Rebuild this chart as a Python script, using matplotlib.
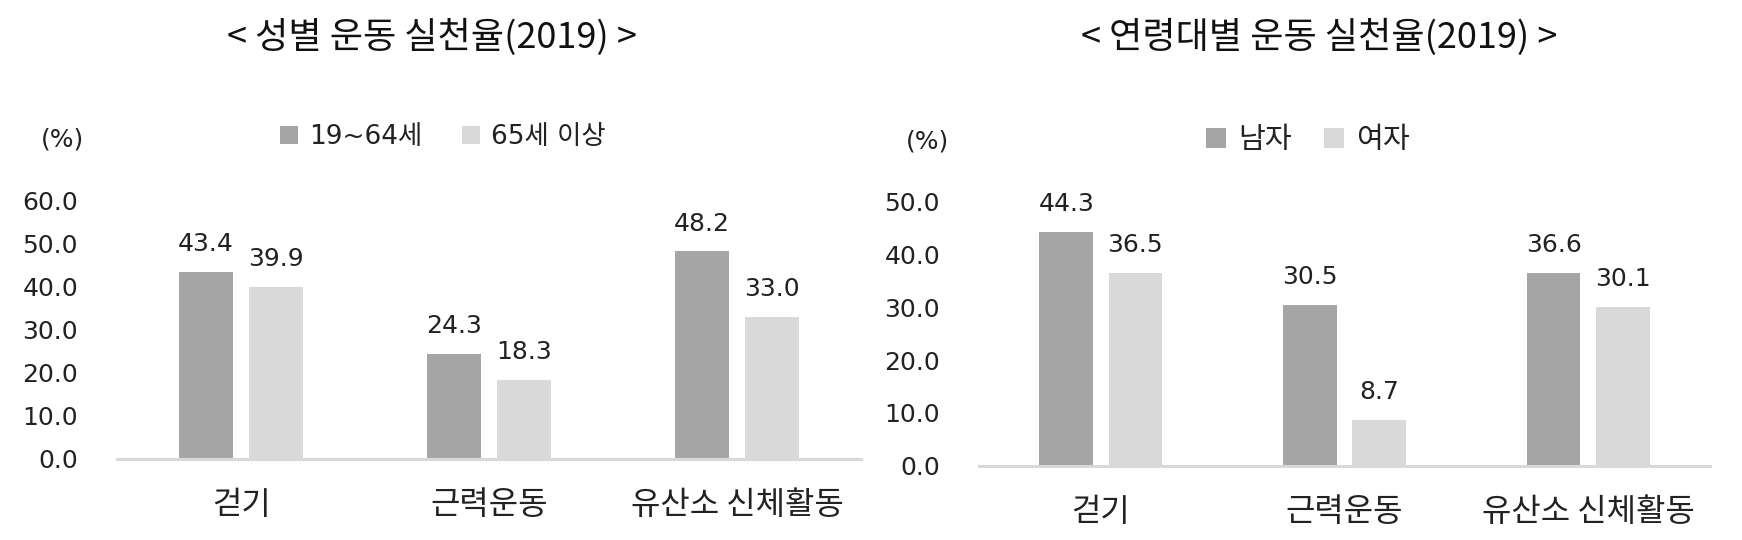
import matplotlib
matplotlib.use("Agg")
import matplotlib.pyplot as plt
import numpy as np

plt.rcParams['font.family'] = ['DejaVu Sans', 'Noto Sans CJK KR']

categories = ["걷기", "근력운동", "유산소 신체활동"]

# Left chart
left_title = "< 성별 운동 실천율(2019) >"
left_series_names = ["19~64세", "65세 이상"]
left_dark = [43.4, 24.3, 48.2]
left_light = [39.9, 18.3, 33.0]
left_ticks = [0, 10, 20, 30, 40, 50, 60]

# Right chart
right_title = "< 연령대별 운동 실천율(2019) >"
right_series_names = ["남자", "여자"]
right_dark = [44.3, 30.5, 36.6]
right_light = [36.5, 8.7, 30.1]
right_ticks = [0, 10, 20, 30, 40, 50]

DARK = "#A5A5A5"
LIGHT = "#D9D9D9"
TXT = "#222222"
KFONT = ['Noto Sans CJK KR', 'DejaVu Sans']
NFONT = ['DejaVu Sans', 'Noto Sans CJK KR']

W, H = 1742, 540
fig = plt.figure(figsize=(W / 100, H / 100), dpi=100)


def panel(rect, title, title_x, pct_xy, names, dark, light, ticks, legend_xy, legend_fs, colsp, tpad):
    ax = fig.add_axes(rect)
    x = np.arange(len(categories))
    w = 0.22
    off = 0.142
    b1 = ax.bar(x - off, dark, w, color=DARK, label=names[0])
    b2 = ax.bar(x + off, light, w, color=LIGHT, label=names[1])
    for bars, vals in ((b1, dark), (b2, light)):
        for rect_, v in zip(bars, vals):
            ax.annotate(f"{v:.1f}", (rect_.get_x() + rect_.get_width() / 2, v),
                        xytext=(0, 15), textcoords="offset points",
                        ha="center", va="baseline", fontsize=18, color=TXT,
                        family=NFONT, annotation_clip=False)
    ax.set_xlim(-0.5, len(categories) - 0.5)
    ax.set_ylim(ticks[0], ticks[-1])
    ax.set_yticks(ticks)
    ax.set_yticklabels([f"{t:.1f}" for t in ticks], fontsize=18, color=TXT, family=NFONT)
    ax.set_xticks(x)
    ax.set_xticklabels(categories, fontsize=23, color=TXT, family=KFONT, fontweight="medium")
    ax.tick_params(axis="y", length=0, pad=28)
    ax.tick_params(axis="x", length=0, pad=tpad)
    for s in ("top", "right", "left"):
        ax.spines[s].set_visible(False)
    ax.spines["bottom"].set_color(LIGHT)
    ax.spines["bottom"].set_linewidth(2.2)
    fig.text(title_x / W, 1 - 37 / H, title, ha="center", va="center",
             fontsize=26, color="#111111", family=KFONT)
    fig.text(pct_xy[0] / W, 1 - pct_xy[1] / H, "(%)", ha="center", va="center",
             fontsize=18, color=TXT, family=NFONT)
    ax.legend(handles=[b1, b2], loc="center left",
              bbox_to_anchor=(legend_xy[0] / W, 1 - legend_xy[1] / H),
              bbox_transform=fig.transFigure, ncol=2, frameon=False,
              borderpad=0, borderaxespad=0, handlelength=0.7, handleheight=0.7,
              handletextpad=0.4, columnspacing=colsp,
              prop={"family": NFONT, "size": legend_fs}, labelcolor=TXT)
    return ax


panel([117 / W, (H - 458.7) / H, 744 / W, 258 / H], left_title, 432, (62, 139),
      left_series_names, left_dark, left_light, left_ticks, (280, 137), 19, 1.5, 22)
panel([979 / W, (H - 465.5) / H, 731 / W, 263.5 / H], right_title, 1319.5, (927, 141),
      right_series_names, right_dark, right_light, right_ticks, (1206, 140), 21, 1.1, 22)

fig.savefig("out.png", dpi=100, facecolor="white")
